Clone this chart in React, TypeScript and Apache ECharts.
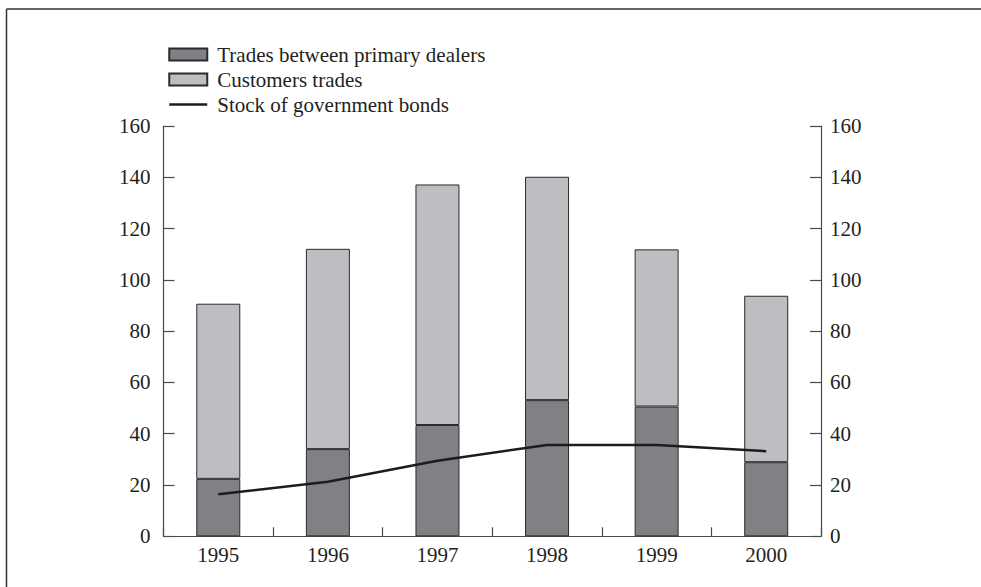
import React, { useEffect, useRef } from "react";
import * as echarts from "echarts";

const years = ["1995", "1996", "1997", "1998", "1999", "2000"];
const dealerTrades = [22.4, 34.0, 43.4, 53.1, 50.6, 28.9];
const customerTrades = [68.3, 78.1, 93.8, 87.1, 61.3, 64.9];
const bondStock = [16.4, 21.3, 29.5, 35.6, 35.6, 33.2];

const FONT = "Liberation Serif";
const TXT = "#231f20";
const AXIS = "#4a4a4a";
const FS = 21;

export default function App() {
  const ref = useRef<HTMLDivElement>(null);
  useEffect(() => {
    if (!ref.current) return;
    const chart = echarts.init(ref.current, undefined, { renderer: "svg" });
    const yAxisCommon = {
      type: "value",
      min: 0,
      max: 160,
      interval: 20,
      splitLine: { show: false },
      axisLine: { show: true, lineStyle: { color: AXIS, width: 1.2 } },
      axisTick: { show: true, inside: true, length: 11, lineStyle: { color: AXIS, width: 1.2 } },
      axisLabel: { color: TXT, fontFamily: FONT, fontSize: FS },
    };
    chart.setOption({
      animation: false,
      backgroundColor: "#fff",
      textStyle: { fontFamily: FONT },
      grid: { left: 163.5, right: 160, top: 126, bottom: 50.7 },
      legend: {
        orient: "vertical",
        left: 163,
        top: 39,
        itemWidth: 38,
        itemHeight: 12,
        itemGap: 4,
        textStyle: { color: TXT, fontFamily: FONT, fontSize: FS, lineHeight: 21, padding: [0, 0, 0, 5] },
        data: [
          { name: "Trades between primary dealers", icon: "rect" },
          { name: "Customers trades", icon: "rect" },
          { name: "Stock of government bonds", itemStyle: { opacity: 0 }, lineStyle: { width: 2.5 } },
        ],
      },
      xAxis: {
        type: "category",
        data: years,
        axisLine: { lineStyle: { color: AXIS, width: 1.2 } },
        axisTick: { show: true, inside: true, length: 9, lineStyle: { color: AXIS, width: 1.2 } },
        axisLabel: { color: TXT, fontFamily: FONT, fontSize: FS, margin: 8 },
      },
      yAxis: [
        { ...yAxisCommon, position: "left", axisLabel: { ...yAxisCommon.axisLabel, margin: 13 } },
        { ...yAxisCommon, position: "right", axisLabel: { ...yAxisCommon.axisLabel, margin: 9 } },
      ],
      series: [
        {
          name: "Trades between primary dealers",
          type: "bar",
          stack: "t",
          barWidth: 44,
          data: dealerTrades,
          itemStyle: { color: "#808185", borderColor: "#2b2b2b", borderWidth: 1 },
        },
        {
          name: "Customers trades",
          type: "bar",
          stack: "t",
          barWidth: 44,
          data: customerTrades,
          itemStyle: { color: "#bdbec2", borderColor: "#2b2b2b", borderWidth: 1 },
        },
        {
          name: "Stock of government bonds",
          type: "line",
          data: bondStock,
          symbol: "none",
          lineStyle: { color: "#1e1b1c", width: 2.5 },
          itemStyle: { color: "#1e1b1c" },
        },
      ],
      graphic: [
        { type: "line", shape: { x1: 6.5, y1: 9, x2: 981, y2: 9 }, style: { stroke: "#333", lineWidth: 1.5 } },
        { type: "line", shape: { x1: 6.5, y1: 9, x2: 6.5, y2: 587 }, style: { stroke: "#333", lineWidth: 1.5 } },
      ],
    });
    return () => chart.dispose();
  }, []);
  return (
    <div
      ref={ref}
      style={{ position: "absolute", left: 0, top: 0, width: 981, height: 587 }}
    />
  );
}
